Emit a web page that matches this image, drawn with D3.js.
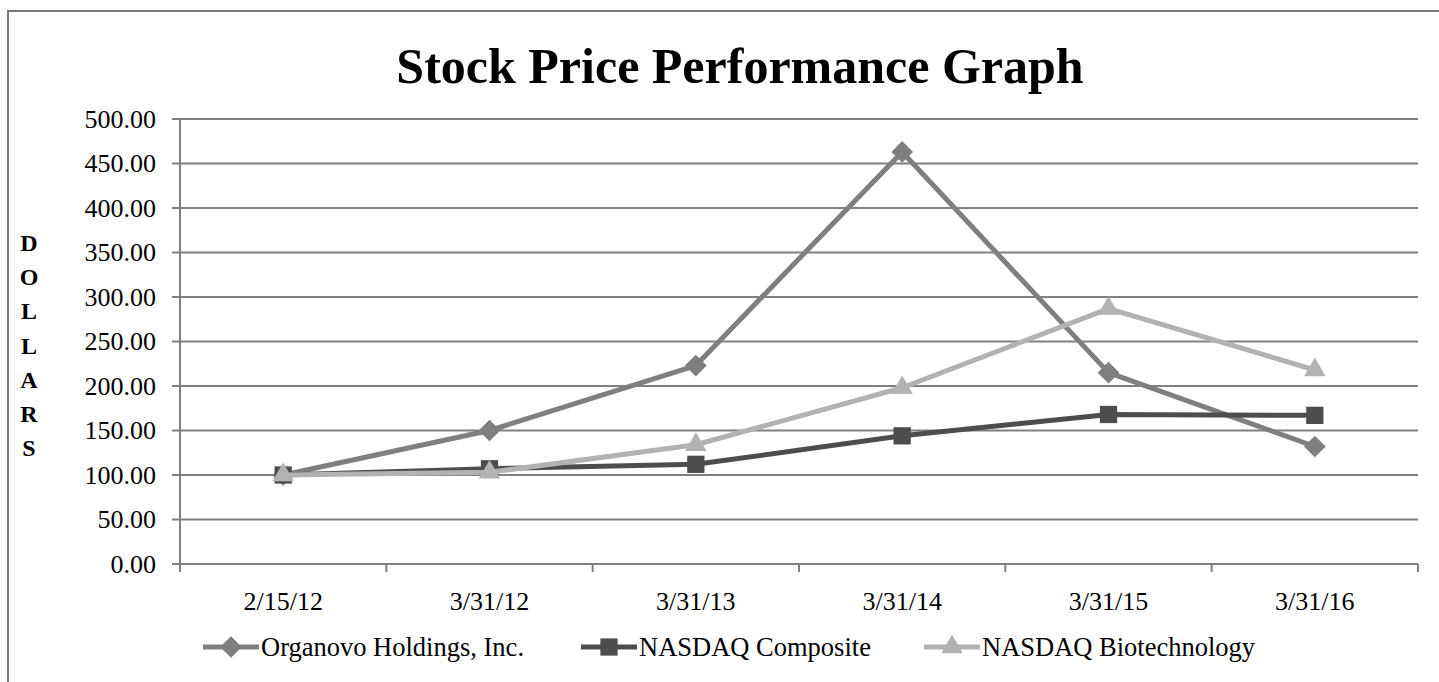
<!DOCTYPE html>
<html>
<head>
<meta charset="utf-8">
<script src="https://cdn.jsdelivr.net/npm/d3@7"></script>
<style>
  body { margin: 0; background: #fff; }
  svg { display: block; font-family: "Liberation Serif", "Times New Roman", serif; }
</style>
</head>
<body>
<section></section>
<script>
const categories = ["2/15/12", "3/31/12", "3/31/13", "3/31/14", "3/31/15", "3/31/16"];
const organovo = [100, 150, 223, 463, 215, 132];
const nasdaqComposite = [100, 107, 112, 144, 168, 167];
const nasdaqBiotech = [100, 103, 134, 198, 287, 218];
const yTicks = [0, 50, 100, 150, 200, 250, 300, 350, 400, 450, 500];
const seriesNames = ["Organovo Holdings, Inc.", "NASDAQ Composite", "NASDAQ Biotechnology"];

const WIDTH = 1439;
const HEIGHT = 682;

// plot area
const LEFT = 180, RIGHT = 1418, TOP = 119, BOTTOM = 564;

const series = [
    {name: seriesNames[0], values: organovo, color: "#7f7f7f", symbol: d3.symbolDiamond2, size: 300},
    {name: seriesNames[1], values: nasdaqComposite, color: "#4d4d4d", symbol: d3.symbolSquare2, size: 380},
    {name: seriesNames[2], values: nasdaqBiotech, color: "#b2b2b2", symbol: d3.symbolTriangle2, size: 330}
];

const svg = d3.select("section")
    .append("svg")
    .attr("width", WIDTH)
    .attr("height", HEIGHT);

// outer frame
svg.append("rect")
    .attr("x", 8).attr("y", 11)
    .attr("width", WIDTH + 20).attr("height", HEIGHT + 20)
    .attr("fill", "none")
    .attr("stroke", "#7a7a7a")
    .attr("stroke-width", 2);

const xScale = d3.scaleBand()
    .domain(categories)
    .range([LEFT, RIGHT])
    .padding(0);

const yScale = d3.scaleLinear()
    .domain([0, 500])
    .range([BOTTOM, TOP]);

const cx = d => xScale(d) + xScale.bandwidth() / 2;

// horizontal gridlines
svg.append("g")
    .selectAll("line")
    .data(yTicks)
    .enter()
    .append("line")
    .attr("x1", LEFT - 8)
    .attr("x2", RIGHT)
    .attr("y1", d => yScale(d))
    .attr("y2", d => yScale(d))
    .attr("stroke", "#808080")
    .attr("stroke-width", 2);

// y axis
const yAxis = d3.axisLeft(yScale)
    .tickValues(yTicks)
    .tickFormat(d3.format(".2f"))
    .tickSize(0)
    .tickPadding(24);

const yG = svg.append("g")
    .attr("transform", "translate(" + LEFT + ",0)")
    .call(yAxis);
yG.select(".domain").remove();
yG.selectAll("text")
    .attr("font-family", "Liberation Serif")
    .attr("font-size", 26)
    .attr("fill", "#000");

svg.append("line")
    .attr("x1", LEFT).attr("x2", LEFT)
    .attr("y1", TOP).attr("y2", BOTTOM + 8)
    .attr("stroke", "#808080")
    .attr("stroke-width", 2);

// x axis labels
const xAxis = d3.axisBottom(xScale).tickSize(0).tickPadding(28);
const xG = svg.append("g")
    .attr("transform", "translate(0," + BOTTOM + ")")
    .call(xAxis);
xG.select(".domain").remove();
xG.selectAll("text")
    .attr("font-family", "Liberation Serif")
    .attr("font-size", 26)
    .attr("fill", "#000");

// x tick marks between categories
const boundaries = categories.map(c => xScale(c)).concat([RIGHT]);
svg.append("g")
    .selectAll("line")
    .data(boundaries)
    .enter()
    .append("line")
    .attr("x1", d => d).attr("x2", d => d)
    .attr("y1", BOTTOM).attr("y2", BOTTOM + 8)
    .attr("stroke", "#808080")
    .attr("stroke-width", 2);

// y axis title, stacked letters
svg.append("g")
    .selectAll("text")
    .data("DOLLARS".split(""))
    .enter()
    .append("text")
    .attr("x", 29)
    .attr("y", (d, i) => 251 + i * 34.2)
    .attr("text-anchor", "middle")
    .attr("font-size", 24)
    .attr("font-weight", "bold")
    .text(d => d);

// title
svg.append("text")
    .attr("x", 740)
    .attr("y", 83)
    .attr("text-anchor", "middle")
    .attr("font-size", 50)
    .attr("font-weight", "bold")
    .text("Stock Price Performance Graph");

const line = d3.line()
    .x((d, i) => cx(categories[i]))
    .y(d => yScale(d));

series.forEach(s => {
    svg.append("path")
        .datum(s.values)
        .attr("d", line)
        .attr("fill", "none")
        .attr("stroke", s.color)
        .attr("stroke-width", 5)
        .attr("stroke-linejoin", "round");

    svg.append("g")
        .selectAll("path")
        .data(s.values)
        .enter()
        .append("path")
        .attr("d", d3.symbol().type(s.symbol).size(s.size))
        .attr("transform", (d, i) => "translate(" + cx(categories[i]) + "," + yScale(d) + ")")
        .attr("fill", s.color);
});

// legend
const legendX = [203, 581, 924];
const legend = svg.append("g")
    .selectAll("g")
    .data(series)
    .enter()
    .append("g")
    .attr("transform", (d, i) => "translate(" + legendX[i] + ",647)");

legend.append("line")
    .attr("x1", 0).attr("x2", 56)
    .attr("stroke", d => d.color)
    .attr("stroke-width", 5);

legend.append("path")
    .attr("d", d => d3.symbol().type(d.symbol).size(d.size)())
    .attr("transform", "translate(28,0)")
    .attr("fill", d => d.color);

legend.append("text")
    .attr("x", 58)
    .attr("y", 9)
    .attr("font-size", 26.5)
    .text(d => d.name);
</script>
</body>
</html>
